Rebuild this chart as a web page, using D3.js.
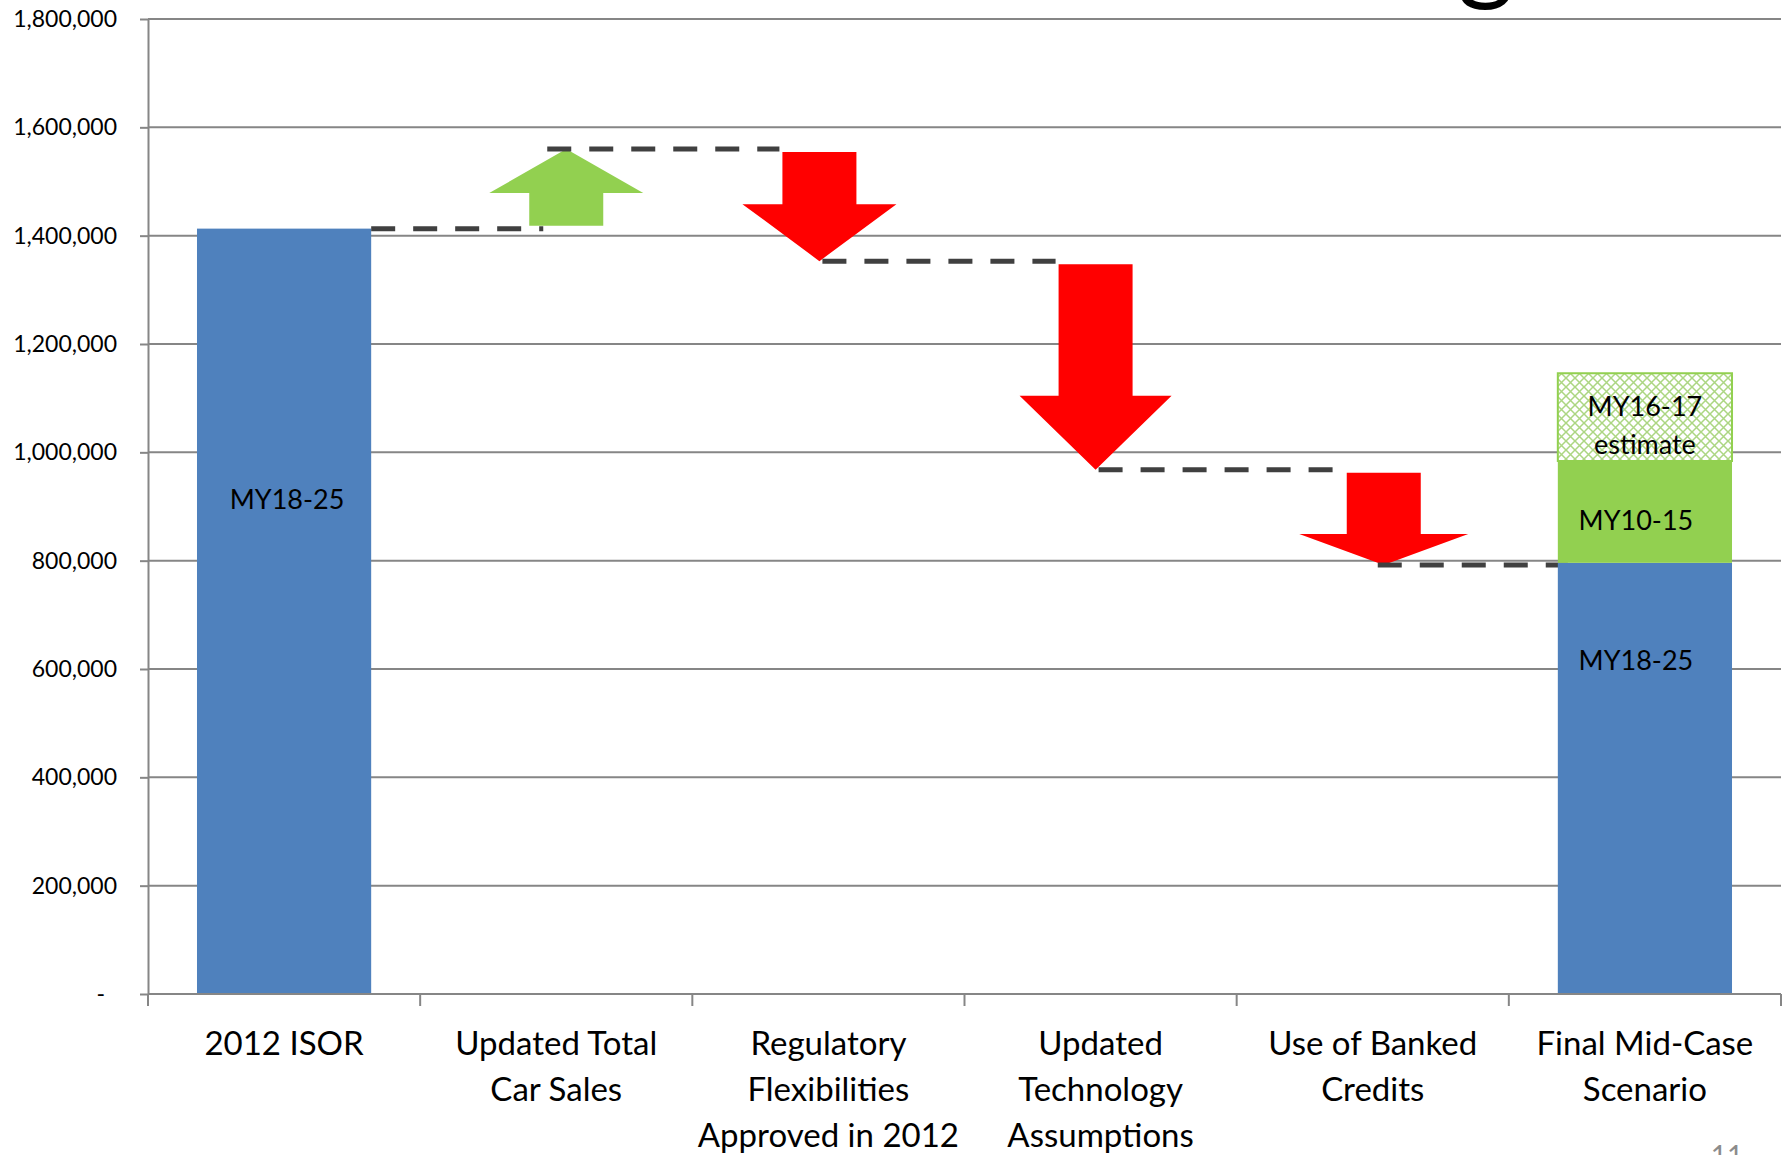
<!DOCTYPE html>
<html>
<head>
<meta charset="utf-8">
<script src="https://cdn.jsdelivr.net/npm/d3@7"></script>
<style>
  body { margin: 0; background: #fff; }
  svg { display: block; font-family: Lato, "Open Sans", sans-serif; }
</style>
</head>
<body>
<svg id="chart" width="1787" height="1155"></svg>
<script>
// categories and their axis label lines
const categories = ["2012 ISOR", "Updated Total Car Sales", "Regulatory Flexibilities Approved in 2012",
  "Updated Technology Assumptions", "Use of Banked Credits", "Final Mid-Case Scenario"];
const categoryLines = [["2012 ISOR"], ["Updated Total", "Car Sales"], ["Regulatory", "Flexibilities", "Approved in 2012"],
  ["Updated", "Technology", "Assumptions"], ["Use of Banked", "Credits"], ["Final Mid-Case", "Scenario"]];

// starting bar and the steps between
const startValue = 1413000;
const changes = [147000, -207000, -385000, -176000];

// stacked final bar
const finalSeries = ["MY18-25", "MY10-15", "MY16-17 estimate"];
const finalValues = [796000, 188000, 162000];

const yTicks = [0, 200000, 400000, 600000, 800000, 1000000, 1200000, 1400000, 1600000, 1800000];

// ---- layout / style ----
const plot = { left: 148, right: 1781, top: 19, bottom: 994 };
const blue = "#4f81bd", green = "#92d050", red = "#ff0000", grey = "#868686", dashCol = "#404040";
// arrow shapes (px): head width, head length, horizontal nudge
const arrowHeadW = [154, 154, 152, 169];
const arrowHeadH = [44, 57, 74, 31];
const arrowNudge = [10, -9, -5, 11];
const shaftW = 74;

const svg = d3.select("#chart");

const y = d3.scaleLinear().domain([0, 1800000]).range([plot.bottom, plot.top]);
const x = d3.scaleBand().domain(categories).range([plot.left, plot.right])
  .paddingInner(0.36).paddingOuter(0.18);
const step = x.step();
const cx = c => x(c) + x.bandwidth() / 2;

// hatch for the estimate segment
const defs = svg.append("defs");
const pat = defs.append("pattern").attr("id", "hatch")
  .attr("patternUnits", "userSpaceOnUse").attr("width", 9).attr("height", 9);
pat.append("rect").attr("width", 9).attr("height", 9).attr("fill", "#fff");
pat.append("path").attr("d", "M0,0L9,9M9,0L0,9")
  .attr("stroke", "#acd682").attr("stroke-width", 1.5);

// partial title glyph cut off at the top
svg.append("text").attr("x", 1486).attr("y", -10).attr("text-anchor", "middle")
  .attr("font-size", 110).attr("fill", "#000").text("g");

// gridlines
svg.append("g").selectAll("line").data(yTicks.filter(d => d > 0)).join("line")
  .attr("x1", plot.left).attr("x2", plot.right)
  .attr("y1", d => y(d)).attr("y2", d => y(d))
  .attr("stroke", grey).attr("stroke-width", 2);

// y axis
const yAxis = svg.append("g").attr("transform", `translate(${plot.left},0)`)
  .call(d3.axisLeft(y).tickValues(yTicks).tickSize(8).tickSizeOuter(0).tickPadding(23)
    .tickFormat(d => d === 0 ? "-" : d3.format(",")(d)));
yAxis.attr("font-family", null);
yAxis.select(".domain").attr("stroke", grey).attr("stroke-width", 2);
yAxis.selectAll(".tick line").attr("stroke", grey).attr("stroke-width", 2);
yAxis.selectAll(".tick text").attr("font-size", 23).attr("fill", "#000")
  .attr("dx", d => d === 0 ? -12 : 0);

// first bar
svg.append("rect")
  .attr("x", x(categories[0])).attr("width", x.bandwidth())
  .attr("y", y(startValue)).attr("height", y(0) - y(startValue))
  .attr("fill", blue);

// arrows
let level = startValue;
const steps = changes.map((c, i) => {
  const s = { cat: categories[i + 1], from: level, to: level + c, i };
  level += c;
  return s;
});

const arrowPath = s => {
  const dir = s.to > s.from ? -1 : 1; // screen direction of travel
  const c = cx(s.cat) + arrowNudge[s.i];
  const y0 = y(s.from) + dir * 3, y1 = y(s.to);
  const yb = y1 - dir * arrowHeadH[s.i];
  const hw = arrowHeadW[s.i] / 2, sw = shaftW / 2;
  return `M${c - sw},${y0}L${c + sw},${y0}L${c + sw},${yb}L${c + hw},${yb}L${c},${y1}` +
    `L${c - hw},${yb}L${c - sw},${yb}Z`;
};

svg.append("g").selectAll("path").data(steps).join("path")
  .attr("d", arrowPath)
  .attr("fill", s => s.to > s.from ? green : red);

// dashed connectors
const tipX = s => cx(s.cat) + arrowNudge[s.i];
const shaftLeft = s => tipX(s) - shaftW / 2;
const finalLeft = x(categories[5]);
const connectors = [
  { v: startValue, x1: x(categories[0]) + x.bandwidth(), x2: shaftLeft(steps[0]) + 14 },
  ...steps.map((s, k) => ({
    v: s.to,
    x1: tipX(s) + (k === 0 ? -19 : k === 3 ? -6 : 3),
    x2: k < steps.length - 1 ? shaftLeft(steps[k + 1]) - 3 : finalLeft + 10
  }))
];
svg.append("g").selectAll("line").data(connectors).join("line")
  .attr("x1", d => d.x1).attr("x2", d => d.x2)
  .attr("y1", d => y(d.v)).attr("y2", d => y(d.v))
  .attr("stroke", dashCol).attr("stroke-width", 5).attr("stroke-dasharray", "24,18");

// final stacked bar
let base = 0;
const segs = finalValues.map((v, k) => {
  const s = { name: finalSeries[k], y0: base, y1: base + v, k };
  base += v;
  return s;
});
svg.append("g").selectAll("rect").data(segs).join("rect")
  .attr("x", finalLeft).attr("width", x.bandwidth())
  .attr("y", d => y(d.y1)).attr("height", d => y(d.y0) - y(d.y1))
  .attr("fill", d => d.k === 0 ? blue : d.k === 1 ? green : "url(#hatch)")
  .attr("stroke", d => d.k === 2 ? green : "none").attr("stroke-width", 2);

// x axis with ticks between categories
const xAxis = svg.append("g");
xAxis.append("line").attr("x1", plot.left).attr("x2", plot.right)
  .attr("y1", y(0)).attr("y2", y(0)).attr("stroke", grey).attr("stroke-width", 2);
xAxis.selectAll("line.tk").data(d3.range(categories.length + 1)).join("line").attr("class", "tk")
  .attr("x1", i => plot.left + i * step).attr("x2", i => plot.left + i * step)
  .attr("y1", y(0)).attr("y2", y(0) + 12).attr("stroke", grey).attr("stroke-width", 2);

const lab = xAxis.selectAll("text").data(categories).join("text")
  .attr("text-anchor", "middle").attr("font-size", 33).attr("fill", "#000");
lab.each(function (c, i) {
  d3.select(this).selectAll("tspan").data(categoryLines[i]).join("tspan")
    .attr("x", cx(c)).attr("y", (d, j) => 1055 + j * 46).text(d => d);
});

// labels in bars (value level of text centre)
const barLabels = [
  { cat: 0, lines: ["MY18-25"], at: 913000, dx: 3 },
  { cat: 5, lines: ["MY18-25"], at: 617000, dx: -9 },
  { cat: 5, lines: ["MY10-15"], at: 876000, dx: -9 },
  { cat: 5, lines: ["MY16-17", "estimate"], at: 1086000, dx: 0 }
];
barLabels.forEach(b => {
  const t = svg.append("text").attr("text-anchor", "middle").attr("font-size", 27).attr("fill", "#000");
  t.selectAll("tspan").data(b.lines).join("tspan")
    .attr("x", cx(categories[b.cat]) + b.dx)
    .attr("y", (d, j) => y(b.at) + 10 + j * 38).text(d => d);
});

// slide number, cut off at the bottom
svg.append("text").attr("x", 1727).attr("y", 1166).attr("text-anchor", "middle")
  .attr("font-size", 28).attr("fill", "#8c8c8c").text("11");
</script>
</body>
</html>
